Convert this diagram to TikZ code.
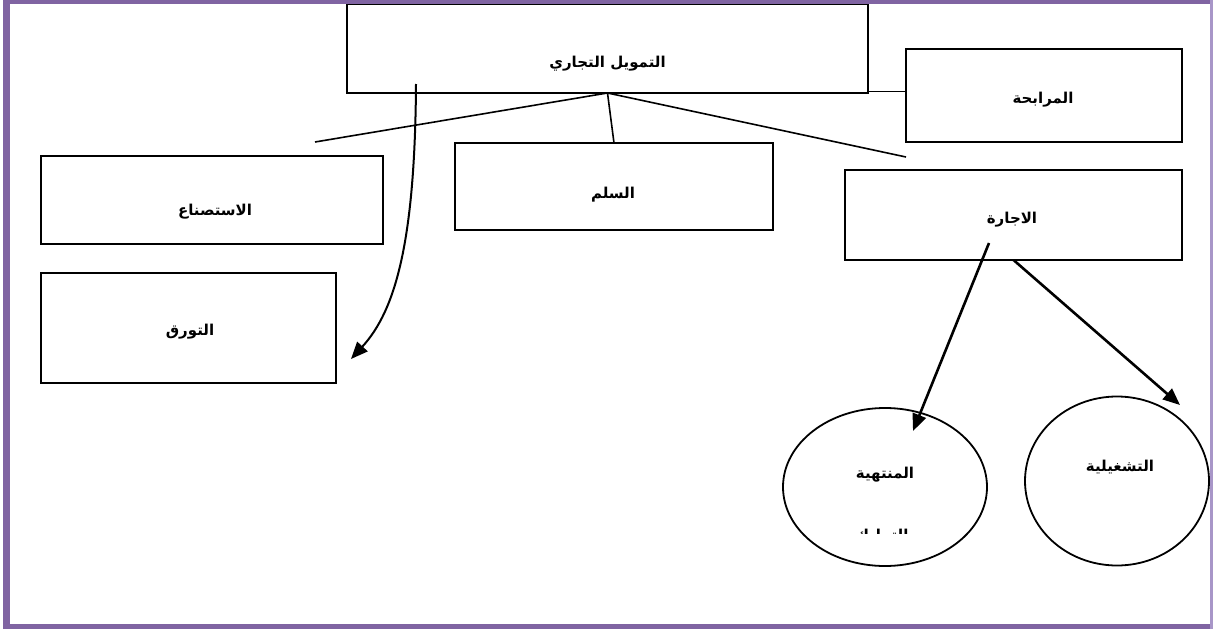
\documentclass[tikz,border=0pt]{standalone}
\usepackage{fontspec}
\usetikzlibrary{arrows.meta,shapes.geometric}
\TeXXeTstate=1
\newfontfamily\arabicfont[Script=Arabic]{DejaVu Sans}
\definecolor{framepurple}{HTML}{8064A2}
\definecolor{framelight}{HTML}{A896C8}
\begin{document}
\begin{tikzpicture}[x=1pt,y=-1pt,
 box/.style={draw, line width=2pt, rectangle, inner sep=0pt, outer sep=0pt},
 oval/.style={draw, line width=1.8pt, ellipse, inner sep=0pt, outer sep=0pt},
 lbl/.style={font=\arabicfont\bfseries\fontsize{15}{17}\selectfont},
 conn/.style={line width=1.6pt},
 arr/.style={line width=2.6pt, -{Triangle[length=17pt,width=14pt]}},
]
\useasboundingbox (0,0) rectangle (1213,629);
\fill[white] (0,0) rectangle (1213,629);

% boxes
\node[box, minimum width=521pt, minimum height=89pt,
  label={[lbl, yshift=-15pt]center:{\beginR التمويل التجاري\endR}}] (top) at (607.5,48.5) {};
\node[box, minimum width=276pt, minimum height=93pt,
  label={[lbl, yshift=-4pt, xshift=-1pt]center:{\beginR المرابحة\endR}}] (mrab) at (1044,95.5) {};
\node[box, minimum width=318pt, minimum height=87pt,
  label={[lbl, yshift=-8.5pt, xshift=-1pt]center:{\beginR السلم\endR}}] (salam) at (614,186.5) {};
\node[box, minimum width=342pt, minimum height=88pt,
  label={[lbl, yshift=-12pt, xshift=3pt]center:{\beginR الاستصناع\endR}}] (istis) at (212,200) {};
\node[box, minimum width=295pt, minimum height=110pt,
  label={[lbl, yshift=-4pt, xshift=1.5pt]center:{\beginR التورق\endR}}] (tawar) at (188.5,328) {};
\node[box, minimum width=337pt, minimum height=90pt,
  label={[lbl, yshift=-5pt, xshift=-1.5pt]center:{\beginR الاجارة\endR}}] (ijara) at (1013.5,215) {};

% ellipses
\node[oval, minimum width=204pt, minimum height=158pt,
  label={[lbl, yshift=12pt]center:{\beginR المنتهية\endR}}] (muntahia) at (885,487) {};
\node[oval, minimum width=184pt, minimum height=169pt,
  label={[lbl, yshift=14pt, xshift=3pt]center:{\beginR التشغيلية\endR}}] (tashghil) at (1117,481) {};

% clipped second line inside the left ellipse
\begin{scope}
\clip (850,524.5) rectangle (920,533);
\node[lbl, anchor=base] (tamlik) at (885,540) {\beginR بالتمليك\endR};
\end{scope}

% free ends
\coordinate (lend) at (315,142);
\coordinate (rend) at (906,157);
\coordinate (cstart) at (416,84);
\coordinate (ctip) at (351,359);
\coordinate (astart) at (989,243);
\coordinate (atip) at (913,431);
\coordinate (btip) at (1180,405);

% connectors
\draw[conn] (top.south) -- (lend);
\draw[conn] (top.south) -- (salam.north);
\draw[conn] (top.south) -- (rend);
\draw[conn] ([yshift=1.5pt]top.south east) -- ([yshift=1.5pt]top.south east -| mrab.west);
\draw[arr, line width=2pt] (cstart) .. controls (415,240) and (396,310) .. (ctip);
\draw[arr] (astart) -- (atip);
\draw[arr] (ijara.south) -- (btip);

% page frame
\fill[framepurple] (3,0) rectangle (1210,4);
\fill[framepurple] (3,624) rectangle (1210,629);
\fill[framepurple] (3,0) rectangle (10,629);
\fill[framelight] (1210,0) rectangle (1213,629);
\end{tikzpicture}
\end{document}
